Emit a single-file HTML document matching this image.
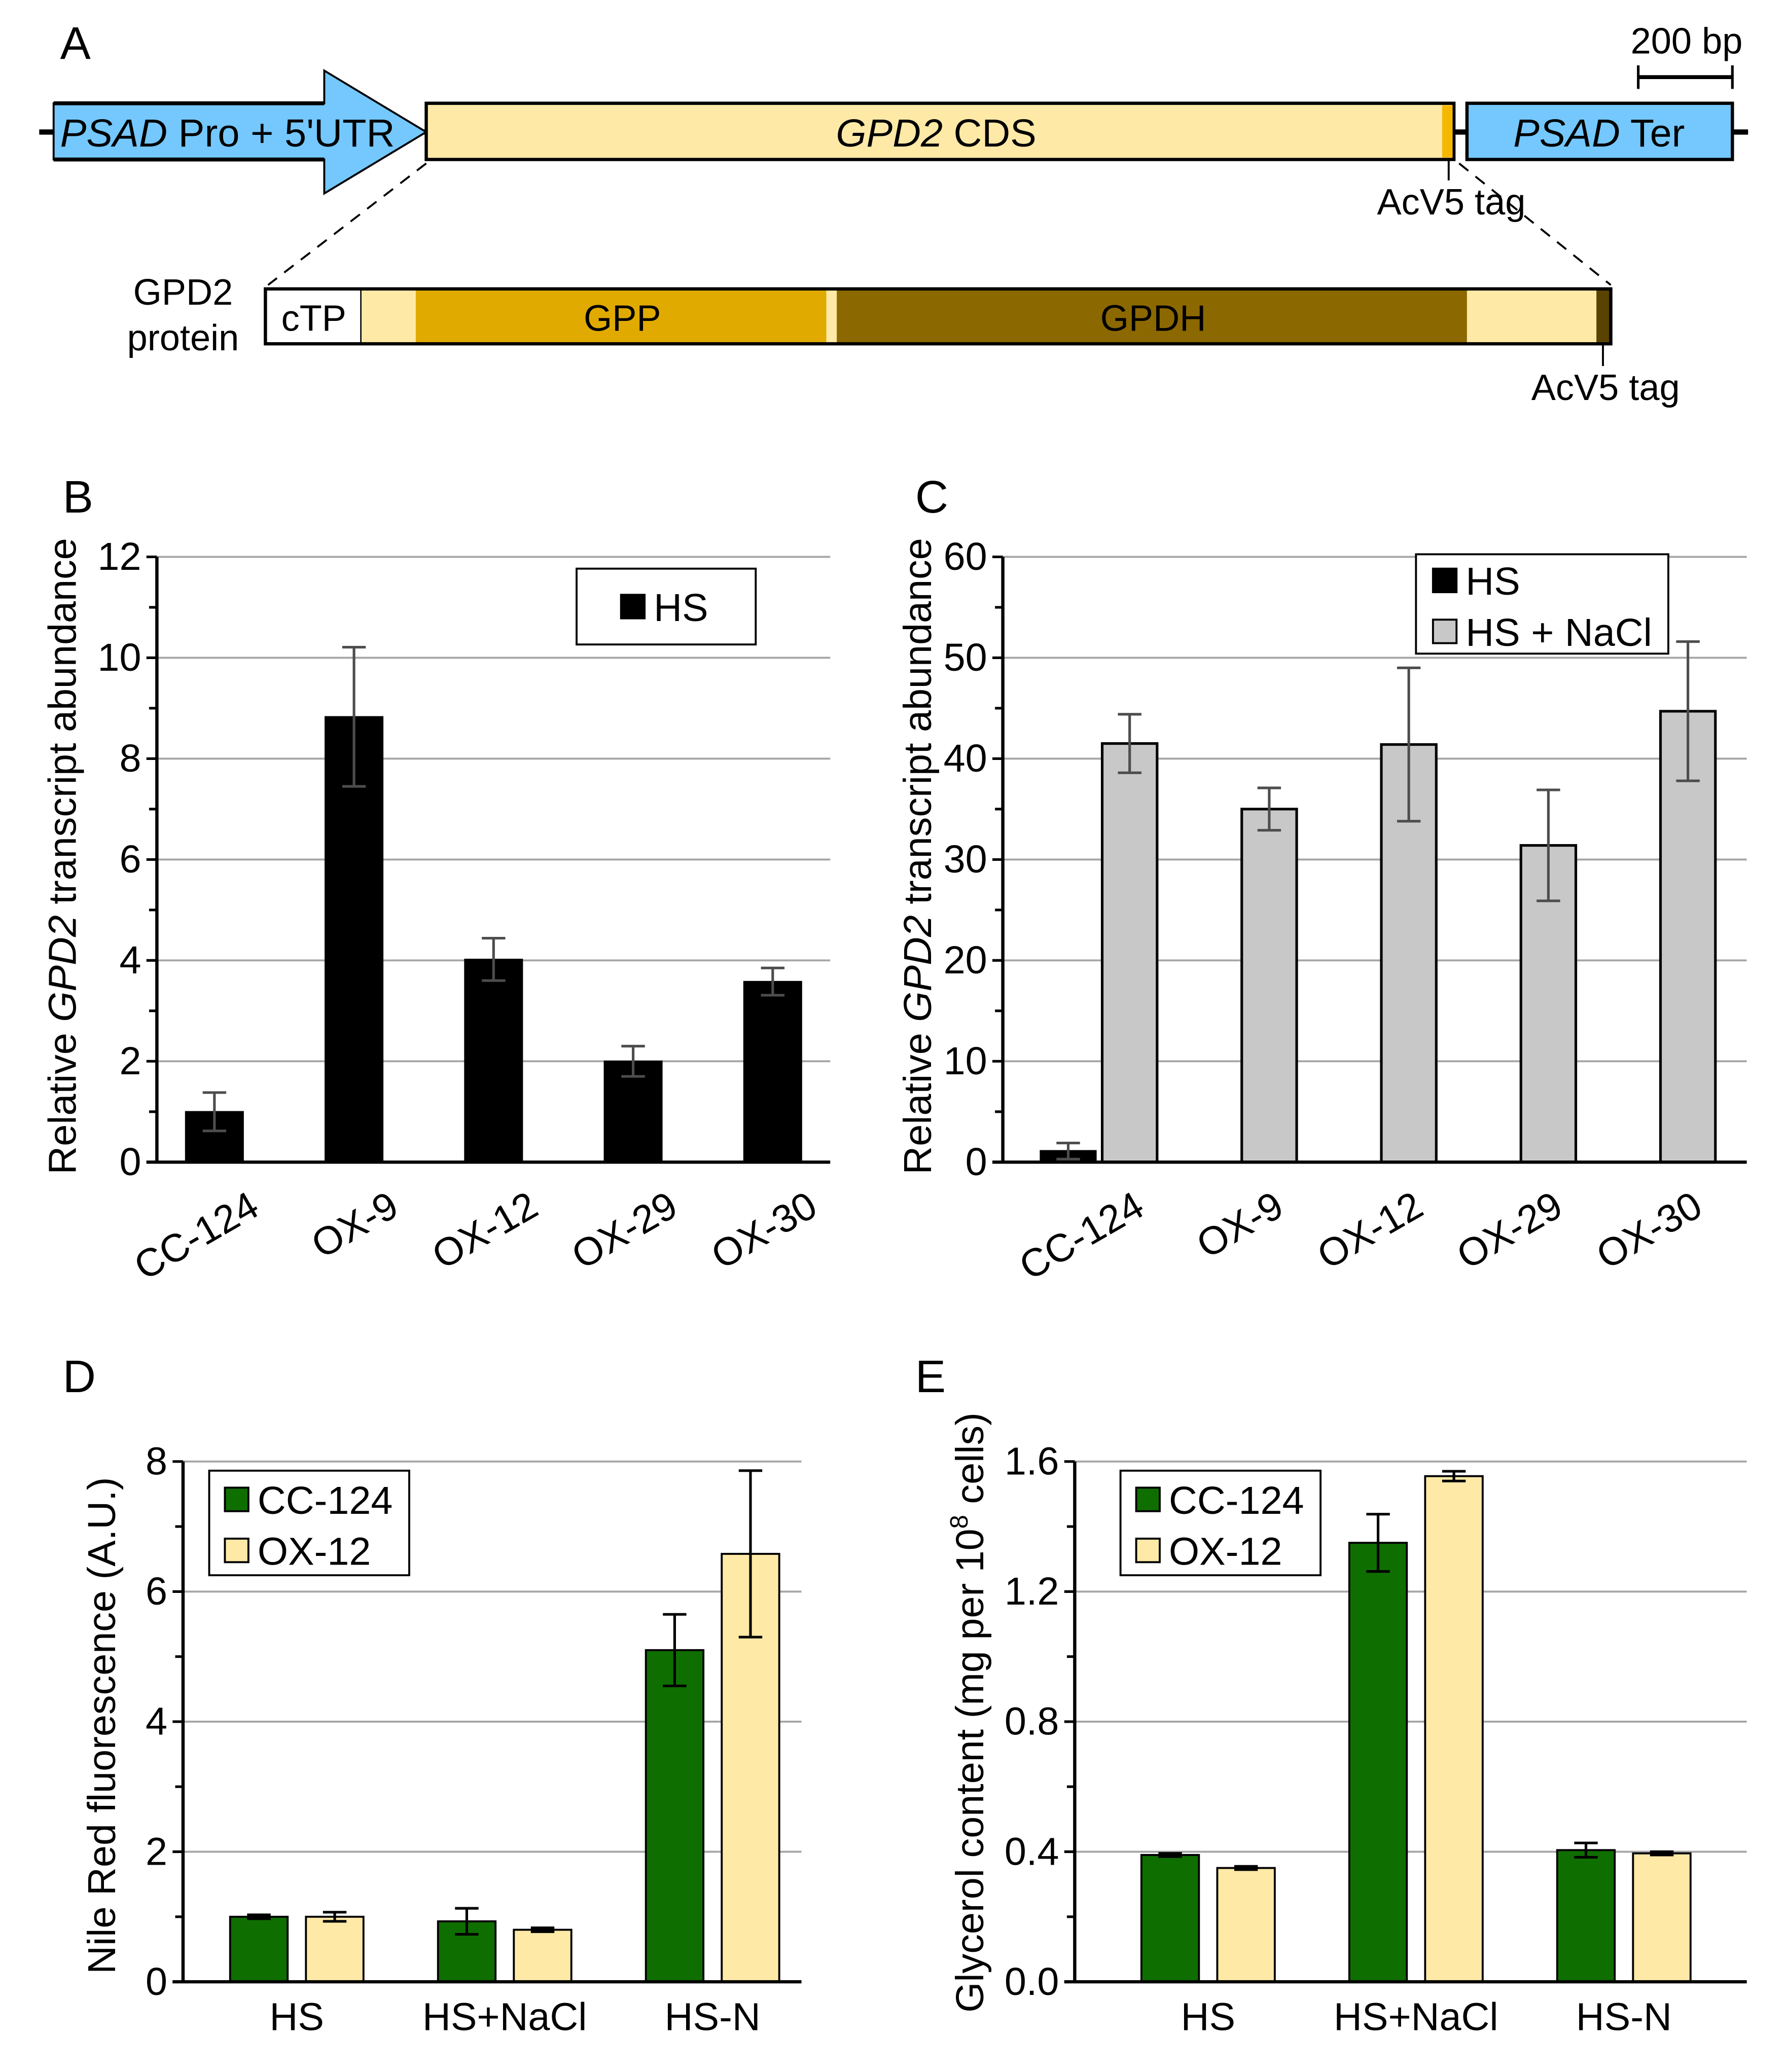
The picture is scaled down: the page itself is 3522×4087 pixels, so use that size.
<!DOCTYPE html>
<html><head><meta charset="utf-8"><style>
html,body{margin:0;padding:0;background:#fff}
svg{display:block;font-family:"Liberation Sans",Arial,sans-serif}
</style></head><body>
<svg id="fig" width="3522" height="4087" viewBox="0 0 1366 1585" preserveAspectRatio="none" xmlns="http://www.w3.org/2000/svg">
<g>
<text x="46" y="45" font-size="35">A</text>
<line x1="30" y1="101" x2="1337" y2="101" stroke="#000" stroke-width="4"/>
<path d="M41 79 H248 V54 L326 101 L248 148 V122 H41 Z" fill="#74c8fd" stroke="#000" stroke-width="1.5"/>
<line x1="41" y1="79" x2="248" y2="79" stroke="#000" stroke-width="3"/><line x1="41" y1="122" x2="248" y2="122" stroke="#000" stroke-width="3"/>
<text x="46" y="112" font-size="30" textLength="256" lengthAdjust="spacingAndGlyphs"><tspan font-style="italic">PSAD</tspan> Pro + 5'UTR</text>
<rect x="326" y="79" width="786" height="43" fill="#fee9a7" stroke="#000" stroke-width="2.5"/>
<rect x="1103" y="80.5" width="8" height="40" fill="#f5b800"/>
<text x="716" y="112" font-size="30" text-anchor="middle"><tspan font-style="italic">GPD2</tspan> CDS</text>
<rect x="1122" y="79" width="203" height="43" fill="#74c8fd" stroke="#000" stroke-width="2.5"/>
<text x="1223" y="112" font-size="30" text-anchor="middle"><tspan font-style="italic">PSAD</tspan> Ter</text>
<text x="1290" y="41" font-size="28" text-anchor="middle">200 bp</text>
<g stroke="#000" stroke-width="3"><line x1="1253" y1="59" x2="1325" y2="59"/><line x1="1253" y1="50" x2="1253" y2="68" stroke-width="2"/><line x1="1325" y1="50" x2="1325" y2="68" stroke-width="2"/></g>
<line x1="1108" y1="122" x2="1108" y2="138" stroke="#000" stroke-width="1.5"/>
<text x="1110" y="164" font-size="28" text-anchor="middle">AcV5 tag</text>
<g stroke="#000" stroke-width="1.5" stroke-dasharray="9,7" fill="none"><line x1="326" y1="125" x2="205" y2="218"/><line x1="1116" y1="125" x2="1232" y2="218"/></g>
<text x="140" y="233" font-size="28" text-anchor="middle">GPD2</text>
<text x="140" y="268" font-size="28" text-anchor="middle">protein</text>
<g>
<rect x="203" y="221" width="73" height="42" fill="#fff"/>
<rect x="276" y="221" width="42" height="42" fill="#fee9a7"/>
<rect x="318" y="221" width="314" height="42" fill="#e0aa00"/>
<rect x="632" y="221" width="8" height="42" fill="#fee9a7"/>
<rect x="640" y="221" width="482" height="42" fill="#8b6800"/>
<rect x="1122" y="221" width="99" height="42" fill="#fee9a7"/>
<rect x="1221" y="221" width="11" height="42" fill="#5a4200"/>
<line x1="276" y1="221" x2="276" y2="263" stroke="#000" stroke-width="1"/>
<rect x="203" y="221" width="1029" height="42" fill="none" stroke="#000" stroke-width="2.5"/>
</g>
<text x="240" y="253" font-size="28" text-anchor="middle">cTP</text>
<text x="476" y="253" font-size="28" text-anchor="middle">GPP</text>
<text x="882" y="253" font-size="28" text-anchor="middle">GPDH</text>
<line x1="1226" y1="263" x2="1226" y2="280" stroke="#000" stroke-width="1.5"/>
<text x="1228" y="306" font-size="28" text-anchor="middle">AcV5 tag</text>
</g>
<text x="48" y="392" font-size="35">B</text>
<text x="700" y="392" font-size="35">C</text>
<text x="48" y="1065" font-size="35">D</text>
<text x="700" y="1065" font-size="35">E</text>
</svg>
<script>
// Panel B data
const bCategories = ["CC-124","OX-9","OX-12","OX-29","OX-30"];
const bHS = [1.0, 8.83, 4.02, 2.0, 3.58];
const bHSErr = [0.38, 1.38, 0.42, 0.3, 0.27];
const bTicks = [0,2,4,6,8,10,12];
// Panel C data
const cCategories = ["CC-124","OX-9","OX-12","OX-29","OX-30"];
const cHS = [1.1, 0, 0, 0, 0];
const cHSErr = [0.8, 0, 0, 0, 0];
const cNaCl = [41.5, 35.0, 41.4, 31.4, 44.7];
const cNaClErr = [2.9, 2.1, 7.6, 5.5, 6.9];
const cTicks = [0,10,20,30,40,50,60];
// Panel D data
const dCategories = ["HS","HS+NaCl","HS-N"];
const dCC = [1.0, 0.93, 5.1];
const dCCErr = [0.03, 0.2, 0.55];
const dOX = [1.0, 0.8, 6.58];
const dOXErr = [0.07, 0.03, 1.28];
const dTicks = [0,2,4,6,8];
// Panel E data
const eCategories = ["HS","HS+NaCl","HS-N"];
const eCC = [0.39, 1.35, 0.405];
const eCCErr = [0.005, 0.088, 0.022];
const eOX = [0.35, 1.555, 0.395];
const eOXErr = [0.005, 0.015, 0.005];
const eTicks = ["0.0","0.4","0.8","1.2","1.6"];

const NS="http://www.w3.org/2000/svg";
const svg=document.getElementById('fig');
const FS=30;
function el(tag,attrs,parent){const e=document.createElementNS(NS,tag);for(const k in attrs)e.setAttribute(k,attrs[k]);(parent||svg).appendChild(e);return e;}

function chart(o){
  const g=el('g',{});
  
  
  const max=o.max;
  const y=v=>o.y0-(v/max)*(o.y0-o.y1);
  o.ticks.forEach(t=>{const v=parseFloat(t);if(v>0){const l=el('line',{x1:o.x0,x2:o.xr,y1:y(v),y2:y(v),stroke:'#a6a6a6','stroke-width':1.5},g);
    
    }
    el('line',{x1:o.x0-8,x2:o.x0,y1:y(v),y2:y(v),stroke:'#000','stroke-width':2},g);
    const tx=el('text',{x:o.x0-12,y:y(v)+10,'font-size':FS,'text-anchor':'end'},g);tx.textContent=t;
    
    
  });
  o.minor.forEach(v=>{el('line',{x1:o.x0-6,x2:o.x0,y1:y(v),y2:y(v),stroke:'#000','stroke-width':2},g);});
  o.series.forEach(s=>{
    s.vals.forEach((v,i)=>{
      if(v<=0)return;
      const cx=o.cx(i)+s.off;
      const r=el('rect',{x:cx-o.bw/2,y:y(v),width:o.bw,height:o.y0-y(v),fill:s.fill,stroke:'#000','stroke-width':s.sw},g);
      
      
      const e=s.err[i];
      const eg=el('g',{stroke:o.errColor,'stroke-width':2},g);
      
      
      el('line',{x1:cx,x2:cx,y1:y(v+e),y2:y(Math.max(0,v-e))},eg);
      el('line',{x1:cx-9,x2:cx+9,y1:y(v+e),y2:y(v+e)},eg);
      el('line',{x1:cx-9,x2:cx+9,y1:y(Math.max(0,v-e)),y2:y(Math.max(0,v-e))},eg);
    });
  });
  el('line',{x1:o.x0,x2:o.x0,y1:o.y1,y2:o.y0,stroke:'#000','stroke-width':2.5},g);
  el('line',{x1:o.x0-8,x2:o.xr,y1:o.y0,y2:o.y0,stroke:'#000','stroke-width':2.5},g);
  o.cats.forEach((c,i)=>{
    let t;
    if(o.rot){const lx=o.cx(i)+o.lblOff+26, ly=o.y0+22;
      t=el('text',{x:lx,y:ly+20,'font-size':FS,'text-anchor':'end',transform:`rotate(-30 ${lx} ${ly})`},g);}
    else t=el('text',{x:o.cx(i),y:o.y0+37,'font-size':FS,'text-anchor':'middle'},g);
    t.textContent=c;
    
    
  });
  const tt=el('text',{x:0,y:0,'font-size':FS,'text-anchor':'middle',transform:`translate(${o.tx} ${o.tyc||(o.y0+o.y1)/2}) rotate(-90)`},g);
  tt.innerHTML=o.title;
  
  
  const L=o.legend;
  const lg=el('g',{},g);
  
  
  el('rect',{x:L.x,y:L.y,width:L.w,height:L.h,fill:'#fff',stroke:'#000','stroke-width':1.5},lg);
  L.items.forEach((it,k)=>{
    const yy=L.y+L.first+k*39;
    el('rect',{x:L.x+L.sx,y:yy-9,width:18,height:18,fill:it.fill,stroke:'#000','stroke-width':1.5},lg);
    const t=el('text',{x:L.x+L.sx+25,y:yy+11,'font-size':FS},lg);t.textContent=it.label;
    
    
  });
}

chart({name:'chart-b',x0:120,xr:635,y0:889,y1:426,max:12,ticks:bTicks.map(String),minor:[1,3,5,7,9,11],
  cats:bCategories,cx:i=>164+i*106.75,bw:44,errColor:'#4d4d4d',rot:true,lblOff:0,
  series:[{key:'hs',vals:bHS,err:bHSErr,fill:'#000',off:0,sw:1}],
  tx:58,tyc:655,title:'Relative <tspan font-style="italic">GPD2</tspan> transcript abundance',
  legend:{x:441,y:435,w:137,h:58,sx:34,first:29,items:[{fill:'#000',label:'HS'}]}});
chart({name:'chart-c',x0:767,xr:1336,y0:889,y1:426,max:60,ticks:cTicks.map(String),minor:[5,15,25,35,45,55],
  cats:cCategories,cx:i=>841+i*106.75,bw:42,errColor:'#4d4d4d',rot:true,lblOff:0,
  series:[{key:'hs',vals:cHS,err:cHSErr,fill:'#000',off:-24,sw:1.5},{key:'hs-nacl',vals:cNaCl,err:cNaClErr,fill:'#c8c8c8',off:23,sw:2}],
  tx:712,tyc:655,title:'Relative <tspan font-style="italic">GPD2</tspan> transcript abundance',
  legend:{x:1083,y:424,w:193,h:76,sx:13,first:20,items:[{fill:'#000',label:'HS'},{fill:'#c8c8c8',label:'HS + NaCl'}]}});
chart({name:'chart-d',x0:140,xr:613,y0:1516,y1:1118,max:8,ticks:dTicks.map(String),minor:[1,3,5,7],
  cats:dCategories,cx:i=>227+i*159,bw:44,errColor:'#000',rot:false,
  series:[{key:'cc124',vals:dCC,err:dCCErr,fill:'#0f6e00',off:-29,sw:1.5},{key:'ox12',vals:dOX,err:dOXErr,fill:'#fee9a7',off:29,sw:1.5}],
  tx:88,tyc:1320,title:'Nile Red fluorescence (A.U.)',
  legend:{x:160,y:1125,w:153,h:80,sx:12,first:22,items:[{fill:'#0f6e00',label:'CC-124'},{fill:'#fee9a7',label:'OX-12'}]}});
chart({name:'chart-e',x0:822,xr:1336,y0:1516,y1:1118,max:1.6,ticks:eTicks,minor:[0.2,0.6,1.0,1.4],
  cats:eCategories,cx:i=>924+i*159,bw:44,errColor:'#000',rot:false,
  series:[{key:'cc124',vals:eCC,err:eCCErr,fill:'#0f6e00',off:-29,sw:1.5},{key:'ox12',vals:eOX,err:eOXErr,fill:'#fee9a7',off:29,sw:1.5}],
  tx:752,tyc:1310,title:'Glycerol content (mg per 10<tspan dy="-12" font-size="19">8</tspan><tspan dy="12"> cells)</tspan>',
  legend:{x:857,y:1125,w:153,h:80,sx:12,first:22,items:[{fill:'#0f6e00',label:'CC-124'},{fill:'#fee9a7',label:'OX-12'}]}});
</script>
</body></html>
